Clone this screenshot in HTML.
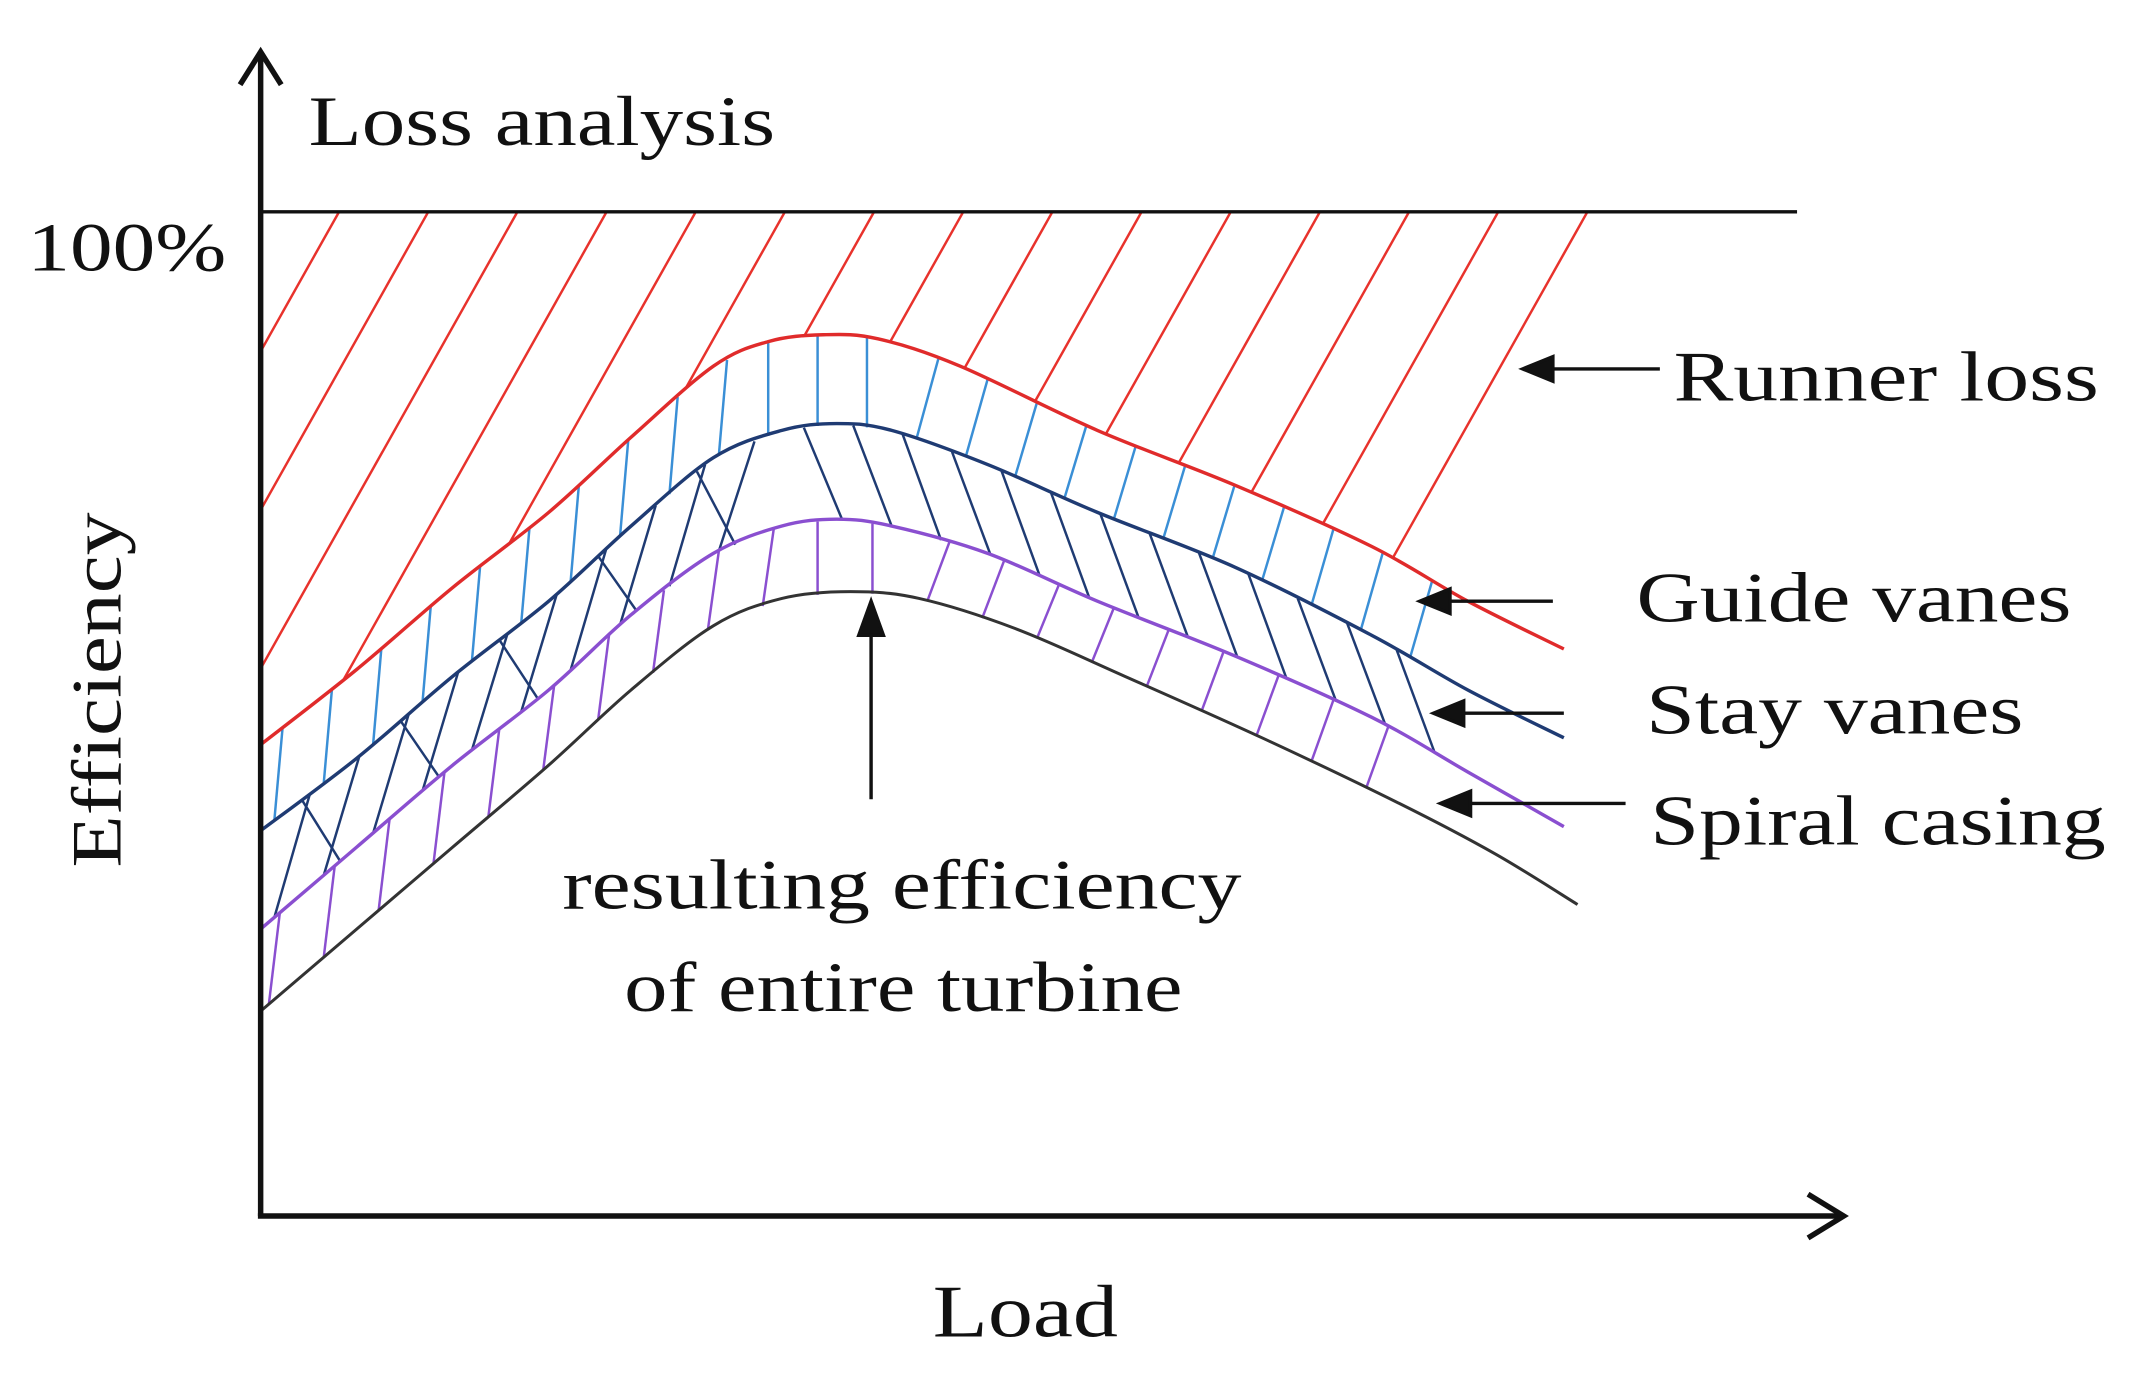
<!DOCTYPE html>
<html><head><meta charset="utf-8"><style>
html,body{margin:0;padding:0;background:#fff;}
svg{display:block;}
text{font-family:"Liberation Serif",serif;fill:#111;}
</style></head><body>
<svg id="s" width="2140" height="1380" viewBox="0 0 1560 1010" preserveAspectRatio="none" xmlns="http://www.w3.org/2000/svg">
<defs>
<clipPath id="redclip"><path id="rc" d=""/></clipPath>
</defs>
<g id="hatch"></g>
<g id="curves"></g>
<line x1="190" y1="890" x2="190" y2="40" stroke="#111" stroke-width="4"/>
<polyline points="175,62 190,38 205,62" fill="none" stroke="#111" stroke-width="4"/>
<line x1="188" y1="890" x2="1342" y2="890" stroke="#111" stroke-width="4"/>
<polyline points="1318,874 1344,890 1318,906" fill="none" stroke="#111" stroke-width="4"/>
<line x1="190" y1="155" x2="1310" y2="155" stroke="#111" stroke-width="2.5"/>
<g stroke="#111" stroke-width="2.5" fill="#111">
<line x1="1210" y1="270" x2="1125" y2="270"/><polygon points="1110,270 1132,261 1132,279"/>
<line x1="1132" y1="440" x2="1050" y2="440"/><polygon points="1035,440 1057,431 1057,449"/>
<line x1="1140" y1="522" x2="1060" y2="522"/><polygon points="1045,522 1067,513 1067,531"/>
<line x1="1185" y1="588" x2="1065" y2="588"/><polygon points="1050,588 1072,579 1072,597"/>
<line x1="635" y1="585" x2="635" y2="460"/><polygon points="635,440 626,465 644,465"/>
</g>
<text x="225" y="106" font-size="52" textLength="340" lengthAdjust="spacingAndGlyphs">Loss analysis</text>
<text x="20" y="198" font-size="50" textLength="145" lengthAdjust="spacingAndGlyphs">100%</text>
<text transform="translate(88,635) rotate(-90)" font-size="52" textLength="260" lengthAdjust="spacingAndGlyphs">Efficiency</text>
<text x="680" y="978" font-size="54" textLength="135" lengthAdjust="spacingAndGlyphs">Load</text>
<text x="1220" y="293" font-size="52" textLength="310" lengthAdjust="spacingAndGlyphs">Runner loss</text>
<text x="1193" y="455" font-size="52" textLength="317" lengthAdjust="spacingAndGlyphs">Guide vanes</text>
<text x="1200" y="537" font-size="52" textLength="275" lengthAdjust="spacingAndGlyphs">Stay vanes</text>
<text x="1203" y="618" font-size="52" textLength="332" lengthAdjust="spacingAndGlyphs">Spiral casing</text>
<text x="410" y="665" font-size="52" textLength="495" lengthAdjust="spacingAndGlyphs">resulting  efficiency</text>
<text x="455" y="740" font-size="52" textLength="407" lengthAdjust="spacingAndGlyphs">of entire  turbine</text>
</svg>
<script>
var NS="http://www.w3.org/2000/svg";
var R=[[190,545],[260,490],[330,430],[400,375],[460,320],[520,268],[560,250],[600,245],[640,248],[700,268],[800,315],[900,355],[1000,400],[1070,440],[1140,475]];
var B=[[190,608],[260,555],[330,495],[400,440],[460,385],[520,335],[570,315],[610,310],[650,315],[720,340],[800,375],[900,415],[1000,465],[1070,505],[1140,540]];
var P=[[190,680],[260,620],[330,560],[400,505],[460,450],[520,405],[570,385],[610,380],[650,385],[720,405],[800,440],[900,480],[1000,525],[1070,565],[1140,605]];
var K=[[190,740],[260,680],[330,620],[400,560],[460,505],[520,458],[570,438],[620,433],[670,438],[740,460],[820,495],[920,540],[1020,588],[1090,625],[1150,662]];
function smooth(p){var d="M"+p[0][0]+","+p[0][1];for(var i=0;i<p.length-1;i++){var p0=p[i-1]||p[i],p1=p[i],p2=p[i+1],p3=p[i+2]||p2;d+=" C"+(p1[0]+(p2[0]-p0[0])/6)+","+(p1[1]+(p2[1]-p0[1])/6)+" "+(p2[0]-(p3[0]-p1[0])/6)+","+(p2[1]-(p3[1]-p1[1])/6)+" "+p2[0]+","+p2[1];}return d;}
function f(p,x){if(x<=p[0][0])return p[0][1];for(var i=0;i<p.length-1;i++){if(x<=p[i+1][0]){var t=(x-p[i][0])/(p[i+1][0]-p[i][0]);return p[i][1]+t*(p[i+1][1]-p[i][1]);}}return p[p.length-1][1];}
function el(g,n,a){var e=document.createElementNS(NS,n);for(var k in a)e.setAttribute(k,a[k]);document.getElementById(g).appendChild(e);return e;}
function ln(x1,y1,x2,y2,c,w){el("hatch","line",{x1:x1,y1:y1,x2:x2,y2:y2,stroke:c,"stroke-width":w||1.8});}
var pts="M190,155 L1162,155 L1048,"+f(R,1048);
for(var x=1048;x>=190;x-=4)pts+=" L"+x+","+f(R,x);
pts+=" Z";document.getElementById("rc").setAttribute("d",pts);
var gr=el("hatch","g",{"clip-path":"url(#redclip)"});
for(var t=315-65*5;t<=1165;t+=65){var l=document.createElementNS(NS,"line");l.setAttribute("x1",t);l.setAttribute("y1",150);l.setAttribute("x2",t-0.56*700);l.setAttribute("y2",850);l.setAttribute("stroke","#e8322c");l.setAttribute("stroke-width","1.8");gr.appendChild(l);}
for(var x=200;x<=1030;x+=36){var d=x<560?6:(x<640?0:16);ln(x+d,f(R,x+d),x,f(B,x),"#3a8fd6");}
for(var x=190;x<=1030;x+=36){var d=x<560?-26:28;var x2=x+d;if(x2<190)continue;ln(x,f(B,x),x2,f(P,x2),"#1f3b73");}
for(var x=220;x<=520;x+=72){ln(x,f(B,x),x+28,f(P,x+28),"#1f3b73");}
for(var x=196;x<=1030;x+=40){var d=x<560?8:(x<640?0:16);ln(x+d,f(P,x+d),x,f(K,x),"#8a4fd0");}
el("curves","path",{d:smooth(R),fill:"none",stroke:"#e02b2b","stroke-width":2.5});
el("curves","path",{d:smooth(B),fill:"none",stroke:"#1f3b73","stroke-width":2.5});
el("curves","path",{d:smooth(P),fill:"none",stroke:"#8a4fd0","stroke-width":2.5});
el("curves","path",{d:smooth(K),fill:"none",stroke:"#333","stroke-width":2.2});
</script>
</body></html>
